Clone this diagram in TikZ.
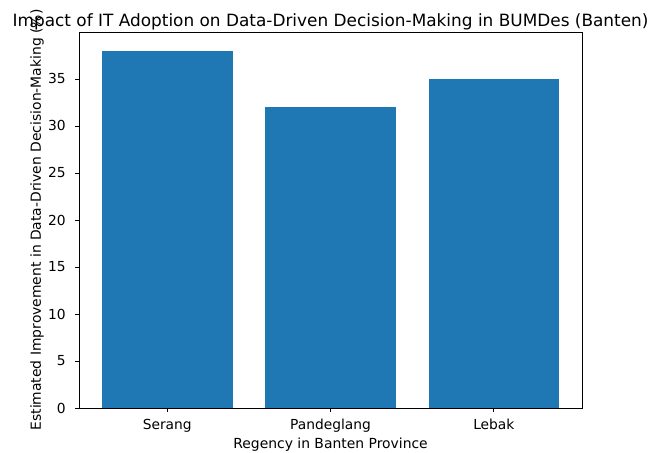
\documentclass[tikz,border=0pt]{standalone}
\usepackage{fontspec}
\setmainfont{DejaVu Sans}
\usepackage{xcolor}
\definecolor{barblue}{HTML}{1F77B4}

\begin{document}
\begin{tikzpicture}[x=163.3pt,y=9.4pt,
  tick/.style={line width=0.9pt},
  ticklabel/.style={font=\fontsize{13.8}{16}\selectfont,inner sep=0pt},
  axislabel/.style={font=\fontsize{13.9}{16}\selectfont,inner sep=0pt}]
\useasboundingbox (-1.024,-4.787) rectangle (2.950,43.40);
% bars
\foreach \i/\v in {0/38,1/32,2/35}
  \fill[barblue] (\i-0.4,0) rectangle (\i+0.4,\v);
% axes box
\draw[line width=0.9pt] (-0.54,0) rectangle (2.54,39.9);
% x ticks
\foreach \i/\name in {0/Serang,1/Pandeglang,2/Lebak} {
  \draw[tick] (\i,0) -- (\i,-0.45);
  \node[ticklabel,anchor=base] (x\i) at (\i,-2.34) {\name};
}
% y ticks
\foreach \v in {0,5,...,35} {
  \draw[tick] (-0.54,\v) -- (-0.566,\v);
  \node[ticklabel,anchor=east] (y\v) at (-0.62,\v) {\v};
}
\node[axislabel,anchor=base] (xlabel) at (1,-4.26) {Regency in Banten Province};
\node[axislabel,rotate=90] (ylabel) at (-0.797,20.0)
  {Estimated Improvement in Data-Driven Decision-Making (\%)};
\node[font=\fontsize{16.9}{19}\selectfont,inner sep=0pt,anchor=base] (title) at (1,40.53)
  {Impact of IT Adoption on Data-Driven Decision-Making in BUMDes (Banten)};
\end{tikzpicture}
\end{document}
